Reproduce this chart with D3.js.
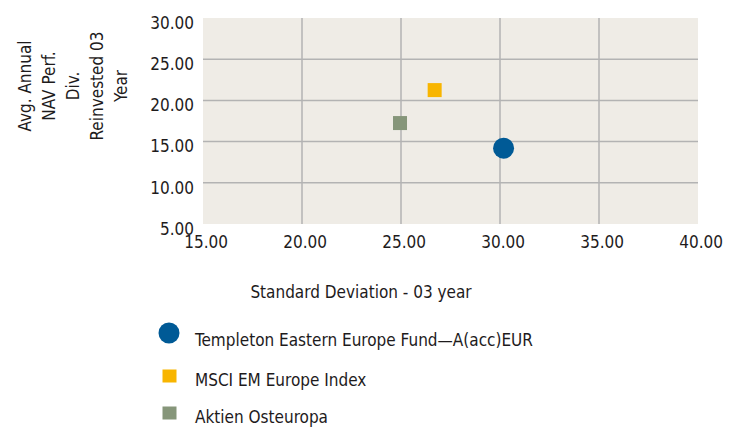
<!DOCTYPE html>
<html>
<head>
<meta charset="utf-8">
<script src="https://cdn.jsdelivr.net/npm/d3@7"></script>
<style>
  body { margin: 0; background: #fff; }
  text { font-family: "DejaVu Sans Condensed", "Liberation Sans Narrow", sans-serif; fill: #1e1b1c; }
</style>
</head>
<body>
<div id="chart"></div>
<script>
// series (one point each)
const seriesNames = ["Templeton Eastern Europe Fund\u2014A(acc)EUR", "MSCI EM Europe Index", "Aktien Osteuropa"];
const stdDev = [30.18, 26.7, 24.95];
const navPerf = [14.2, 21.25, 17.25];
const seriesShapes = ["circle", "square", "square"];
const seriesColors = ["#005a96", "#f8b500", "#86967a"];

const xTicks = [15, 20, 25, 30, 35, 40];
const yTicks = [5, 10, 15, 20, 25, 30];
const yTitleLines = ["Avg. Annual", "NAV Perf.", "Div.", "Reinvested 03", "Year"];
const xTitle = "Standard Deviation - 03 year";

let width = 734, height = 430;
let margin = {top: 18, left: 203, right: 36, bottom: 206};
let plotW = width - margin.left - margin.right;
let plotH = height - margin.top - margin.bottom;

let svg = d3.select("#chart").append("svg")
    .attr("width", width)
    .attr("height", height);

let g = svg.append("g")
    .attr("transform", "translate(" + margin.left + "," + margin.top + ")");

let x = d3.scaleLinear().domain([15, 40]).range([0, plotW]);
let y = d3.scaleLinear().domain([5, 30]).range([plotH, 0]);

// plot background
g.append("rect")
    .attr("width", plotW)
    .attr("height", plotH)
    .attr("fill", "#efece6");

// gridlines (inside ticks only)
g.selectAll(".vgrid")
    .data(xTicks.slice(1, -1))
    .enter().append("line")
    .attr("x1", d => x(d)).attr("x2", d => x(d))
    .attr("y1", 0).attr("y2", plotH)
    .attr("stroke", "#b3b3b3").attr("stroke-width", 1.5);

g.selectAll(".hgrid")
    .data(yTicks.slice(1, -1))
    .enter().append("line")
    .attr("x1", 0).attr("x2", plotW)
    .attr("y1", d => y(d)).attr("y2", d => y(d))
    .attr("stroke", "#b3b3b3").attr("stroke-width", 1.5);

// axes (labels only)
let yAxis = g.append("g")
    .call(d3.axisLeft(y).tickValues(yTicks).tickFormat(d3.format(".2f")).tickSize(0).tickPadding(9));
yAxis.select(".domain").remove();
yAxis.selectAll("text")
    .attr("dy", "0.6em")
    .style("font-size", "17px");

let xAxis = g.append("g")
    .attr("transform", "translate(0," + plotH + ")")
    .call(d3.axisBottom(x).tickValues(xTicks).tickFormat(d3.format(".2f")).tickSize(0).tickPadding(12));
xAxis.select(".domain").remove();
xAxis.selectAll("text")
    .attr("dx", "0.15em")
    .style("font-size", "17px");

// points
let pts = seriesNames.map((n, i) => ({name: n, x: stdDev[i], y: navPerf[i], shape: seriesShapes[i], color: seriesColors[i]}));

g.selectAll(".pt-circle")
    .data(pts.filter(d => d.shape === "circle"))
    .enter().append("circle")
    .attr("cx", d => x(d.x))
    .attr("cy", d => y(d.y))
    .attr("r", 10.5)
    .attr("fill", d => d.color);

g.selectAll(".pt-square")
    .data(pts.filter(d => d.shape === "square"))
    .enter().append("rect")
    .attr("x", d => x(d.x) - 7)
    .attr("y", d => y(d.y) - 7)
    .attr("width", 14).attr("height", 14)
    .attr("fill", d => d.color);

// y title, rotated
let yTitle = svg.append("text")
    .attr("transform", "translate(0,86) rotate(-90)")
    .attr("text-anchor", "middle")
    .style("font-size", "17px");
yTitle.selectAll("tspan")
    .data(yTitleLines)
    .enter().append("tspan")
    .attr("x", 0)
    .attr("y", (d, i) => 31 + i * 24)
    .text(d => d);

// x title
svg.append("text")
    .attr("x", 361)
    .attr("y", 298)
    .attr("text-anchor", "middle")
    .style("font-size", "17px")
    .text(xTitle);

// legend
let legend = svg.append("g");
let legendY = [333, 376, 413];
let item = legend.selectAll(".item")
    .data(pts)
    .enter().append("g")
    .attr("transform", (d, i) => "translate(169," + legendY[i] + ")");

item.filter(d => d.shape === "circle").append("circle")
    .attr("r", 10.5)
    .attr("fill", d => d.color);
item.filter(d => d.shape === "square").append("rect")
    .attr("x", -6.5).attr("y", -6.5)
    .attr("width", 14).attr("height", 13)
    .attr("fill", d => d.color);

item.append("text")
    .attr("x", 26)
    .attr("y", (d, i) => i === 0 ? 13 : 10)
    .style("font-size", "17px")
    .text(d => d.name);
</script>
</body>
</html>
